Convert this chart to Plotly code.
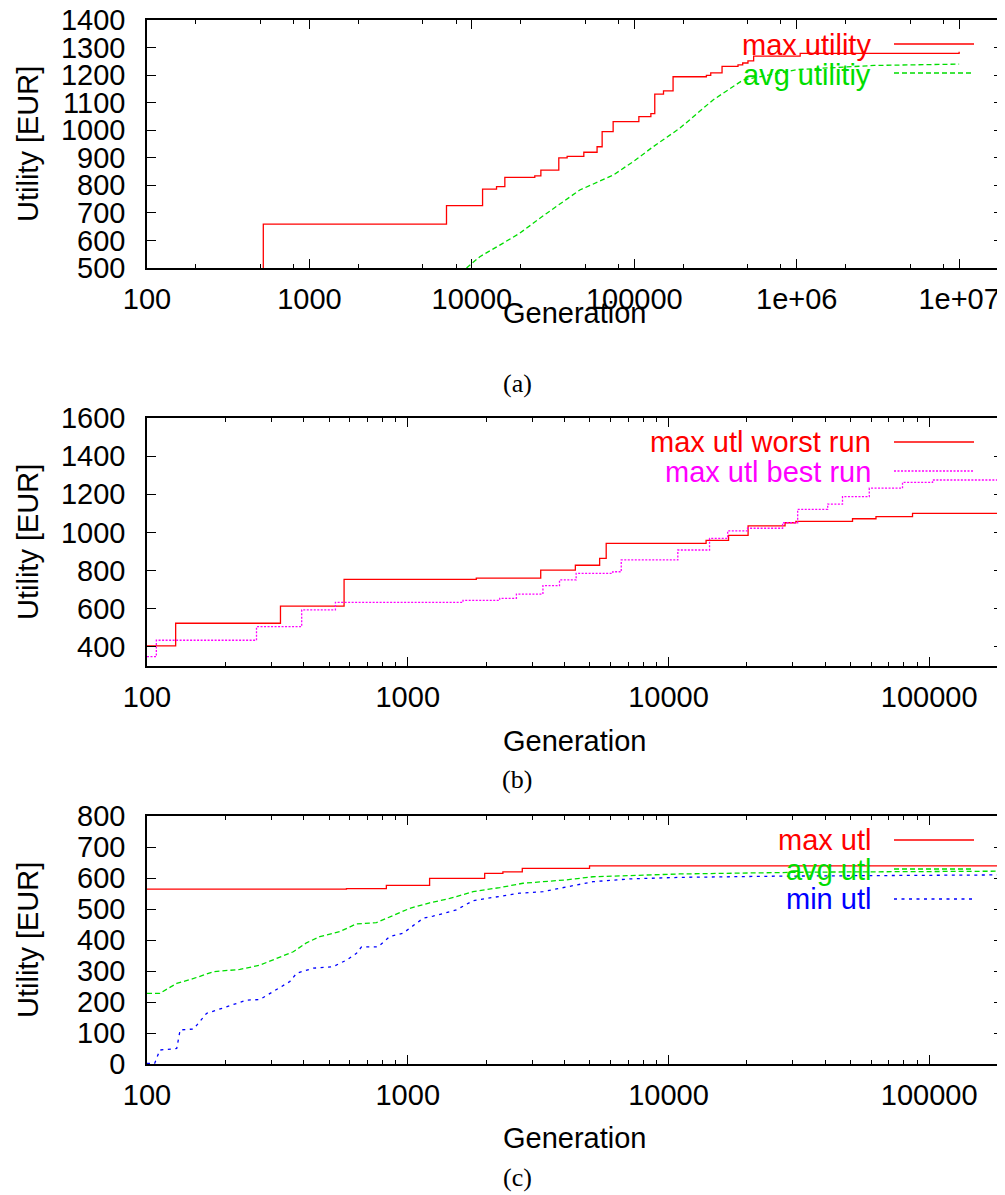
import plotly.graph_objects as go

# ---------------- data ----------------
# (a)
a_max_gen = [100, 520, 6980, 11640, 14190, 15960, 24400, 26600, 34300, 38600, 48900, 59000,
             63400, 74100, 106700, 126500, 133700, 151300, 173300, 278000, 295600, 347000,
             435000, 465000, 501000, 543000, 1050000, 10000000]
a_max_utl = [400, 659, 726, 786, 795, 829, 834, 855, 900, 905, 920, 940,
             995, 1031, 1049, 1060, 1131, 1143, 1194, 1199, 1208, 1232,
             1237, 1244, 1252, 1269, 1279, 1285]
a_avg_gen = [9270, 11200, 14860, 19700, 28800, 46200, 74100, 98400, 130600, 190500,
             305600, 467000, 1000000, 3000000, 10000000]
a_avg_utl = [500, 541, 583, 626, 698, 783, 837, 886, 940, 1007,
             1110, 1182, 1220, 1235, 1240]

# (b)
b_worst_gen = [100, 128.8, 325, 570, 1832, 3236, 4394, 5445, 5770, 13940, 17000, 20200,
               28000, 30800, 50800, 62500, 86300, 190000]
b_worst_utl = [406, 524, 614, 754, 761, 803, 828, 864, 943, 959, 985, 1035,
               1051, 1058, 1072, 1083, 1100, 1107]
b_best_gen = [100, 108.6, 263, 392, 528, 1629, 2253, 2611, 3300, 3820, 4425, 6120, 6590,
              10860, 14370, 16870, 20100, 27400, 31300, 40800, 46500, 58900, 79000,
              103000, 190000]
b_best_utl = [349, 435, 506, 594, 634, 644, 655, 677, 721, 751, 786, 794, 856,
              908, 969, 1008, 1022, 1051, 1121, 1149, 1188, 1232, 1263,
              1275, 1279]

# (c)
c_max_gen = [100, 582, 828, 1213, 1973, 2317, 2750, 4980, 190000]
c_max_utl = [564, 566, 576, 599, 615, 620, 631, 639, 642]
c_avg_gen = [100, 112, 130, 151, 180, 227, 271, 314, 364, 409, 460, 549, 635, 758, 853,
             1018, 1214, 1449, 1780, 2253, 2767, 4053, 5130, 11000, 35700, 190000]
c_avg_utl = [228, 228, 260, 276, 298, 305, 319, 341, 362, 391, 411, 427, 452, 456, 475,
             502, 520, 534, 556, 569, 583, 594, 604, 613, 619, 622]
c_min_gen = [100, 107, 112, 130, 134, 151, 169, 202, 241, 271, 314, 353, 375, 434, 517,
             582, 636, 665, 770, 853, 960, 1145, 1251, 1537, 1780, 2253, 2685, 3300,
             4180, 5130, 7100, 11000, 26600, 190000]
c_min_utl = [2, 2, 45, 50, 110, 113, 163, 185, 206, 208, 239, 266, 293, 309, 314,
             335, 357, 378, 378, 411, 422, 470, 477, 497, 527, 541, 551, 556,
             574, 588, 597, 602, 606, 610]

a_xticks = [100, 1000, 10000, 100000, 1000000, 10000000]
a_xtext = ["100", "1000", "10000", "100000", "1e+06", "1e+07"]
bc_xticks = [100, 1000, 10000, 100000]
bc_xtext = ["100", "1000", "10000", "100000"]

# ---------------- layout helpers ----------------
# The page body has an 8px margin, so the figure is drawn 8px smaller and
# all page positions are shifted by that offset.
OFF = 8
W, H = 1005 - OFF, 1195 - OFF
def px(x):
    return (x - OFF) / W
def py(y):
    return 1 - (y - OFF) / H

RED = "#ff0000"
GREEN = "#00dd00"
MAGENTA = "#ff00ff"
BLUE = "#0000ff"
FONT = "Liberation Sans, Arial, sans-serif"
FS = 29
DASH_AVG = "5px,3px"
DASH_BEST = "2px,1.5px"
DASH_MIN = "3px,4.5px"
LW = 1.3

fig = go.Figure()

fig.add_trace(go.Scatter(x=a_max_gen, y=a_max_utl, mode="lines", line=dict(color=RED, width=LW, shape="hv"),
                         xaxis="x", yaxis="y", showlegend=False))
fig.add_trace(go.Scatter(x=a_avg_gen, y=a_avg_utl, mode="lines", line=dict(color=GREEN, width=LW, dash=DASH_AVG),
                         xaxis="x", yaxis="y", showlegend=False))
fig.add_trace(go.Scatter(x=b_worst_gen, y=b_worst_utl, mode="lines", line=dict(color=RED, width=LW, shape="hv"),
                         xaxis="x2", yaxis="y2", showlegend=False))
fig.add_trace(go.Scatter(x=b_best_gen, y=b_best_utl, mode="lines", line=dict(color=MAGENTA, width=LW, shape="hv", dash=DASH_BEST),
                         xaxis="x2", yaxis="y2", showlegend=False))
fig.add_trace(go.Scatter(x=c_max_gen, y=c_max_utl, mode="lines", line=dict(color=RED, width=LW, shape="hv"),
                         xaxis="x3", yaxis="y3", showlegend=False))
fig.add_trace(go.Scatter(x=c_avg_gen, y=c_avg_utl, mode="lines", line=dict(color=GREEN, width=LW, dash=DASH_AVG),
                         xaxis="x3", yaxis="y3", showlegend=False))
fig.add_trace(go.Scatter(x=c_min_gen, y=c_min_utl, mode="lines", line=dict(color=BLUE, width=LW, dash=DASH_MIN),
                         xaxis="x3", yaxis="y3", showlegend=False))

def minor_vals(lo_dec, hi_dec, mults):
    out = []
    for d in range(lo_dec, hi_dec + 1):
        for m in mults:
            out.append(m * 10 ** d)
    return out

xdom = [px(147), px(1003)]
common_axis = dict(showline=True, linecolor="black", linewidth=1.5, mirror="ticks",
                   ticks="inside", ticklen=9, tickwidth=1.2, tickcolor="black",
                   showgrid=False, zeroline=False, automargin=False,
                   ticklabeloverflow="allow",
                   tickfont=dict(family=FONT, size=FS, color="black"))

def xaxis(domain_anchor, rng, tv, tt, minors):
    d = dict(common_axis)
    d.update(type="log", domain=xdom, anchor=domain_anchor, range=rng,
             tickmode="array", tickvals=tv, ticktext=tt, ticklabelstandoff=4,
             minor=dict(tickmode="array", tickvals=minors, ticks="inside", ticklen=4.5,
                        tickwidth=1.2, tickcolor="black", showgrid=False))
    return d

def yaxis(anchor, dom, rng, dt):
    d = dict(common_axis)
    d.update(domain=dom, anchor=anchor, range=rng, tickmode="linear", tick0=0, dtick=dt,
             ticklabelstandoff=14)
    return d

fig.update_layout(
    template="none",
    width=W, height=H, margin=dict(l=0, r=0, t=0, b=0, autoexpand=False),
    paper_bgcolor="white", plot_bgcolor="white",
    xaxis=xaxis("y", [2, 7.27], a_xticks, a_xtext, minor_vals(2, 7, [2, 5, 8])),
    yaxis=yaxis("x", [py(268), py(20)], [500, 1400], 100),
    xaxis2=xaxis("y2", [2, 5.283], bc_xticks, bc_xtext, minor_vals(2, 5, [2, 3, 4, 5, 6, 7, 8, 9])),
    yaxis2=yaxis("x2", [py(666), py(418)], [300, 1600], 200),
    xaxis3=xaxis("y3", [2, 5.283], bc_xticks, bc_xtext, minor_vals(2, 5, [2, 3, 4, 5, 6, 7, 8, 9])),
    yaxis3=yaxis("x3", [py(1064), py(816)], [0, 800], 100),
)

annotations = []
shapes = []

def text(x, y, s, color="black", size=FS, family=FONT, xanchor="center", angle=0):
    annotations.append(dict(x=px(x), y=py(y), xref="paper", yref="paper", text=s, showarrow=False,
                            xanchor=xanchor, yanchor="middle", textangle=angle,
                            font=dict(family=family, size=size, color=color)))

def legend_line(y, color, dash):
    shapes.append(dict(type="line", xref="paper", yref="paper", x0=px(894), x1=px(974),
                       y0=py(y), y1=py(y), line=dict(color=color, width=LW, dash=dash)))

for (ycenter, xtitle_y, cap_y, cap) in [(144, 313, 383, "(a)"),
                                        (542, 741, 779, "(b)"),
                                        (940, 1138, 1177, "(c)")]:
    text(28, ycenter, "Utility [EUR]", angle=-90)
    text(575, xtitle_y, "Generation")
    text(517, cap_y, cap, family="Liberation Serif, Times New Roman, serif", size=26)

# legends
text(873, 45, "max utility", color=RED, xanchor="right")
legend_line(44, RED, "solid")
text(873, 75, "avg utilitiy", color=GREEN, xanchor="right")
legend_line(73, GREEN, DASH_AVG)

text(873, 442, "max utl worst run", color=RED, xanchor="right")
legend_line(442, RED, "solid")
text(873, 472, "max utl best run", color=MAGENTA, xanchor="right")
legend_line(471, MAGENTA, DASH_BEST)

text(873, 840, "max utl", color=RED, xanchor="right")
legend_line(840, RED, "solid")
text(873, 870, "avg utl", color=GREEN, xanchor="right")
legend_line(869, GREEN, DASH_AVG)
text(873, 899, "min utl", color=BLUE, xanchor="right")
legend_line(899, BLUE, DASH_MIN)

fig.update_layout(annotations=annotations, shapes=shapes)

fig.write_html("out.html")
